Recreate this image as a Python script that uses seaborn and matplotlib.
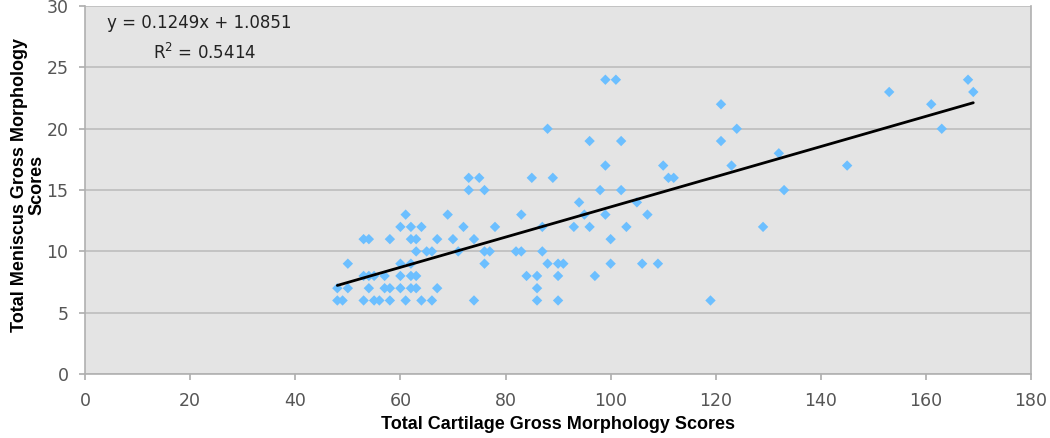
import matplotlib
matplotlib.use("Agg")
import matplotlib.pyplot as plt
import seaborn as sns
import numpy as np
import pandas as pd

# Data (x: cartilage score, y: meniscus score)
y24 = [99, 101, 168]
y23 = [153, 169]
y22 = [121, 161]
y20 = [88, 124, 163]
y19 = [96, 102, 121]
y18 = [132]
y17 = [99, 110, 123, 145]
y16 = [73, 75, 85, 89, 111, 112]
y15 = [73, 76, 98, 102, 133]
y14 = [94, 105]
y13 = [61, 69, 83, 95, 99, 107]
y12 = [60, 62, 64, 72, 78, 87, 93, 96, 103, 129]
y11 = [53, 54, 58, 62, 63, 67, 70, 74, 100]
y10 = [63, 65, 66, 71, 76, 77, 82, 83, 87]
y9 = [50, 60, 62, 76, 88, 90, 91, 100, 106, 109]
y8 = [53, 54, 55, 57, 60, 62, 63, 84, 86, 90, 97]
y7 = [48, 50, 54, 57, 58, 60, 62, 63, 67, 86]
y6 = [48, 49, 53, 55, 56, 58, 61, 64, 66, 74, 86, 90, 119]

groups = {24: y24, 23: y23, 22: y22, 20: y20, 19: y19, 18: y18, 17: y17,
          16: y16, 15: y15, 14: y14, 13: y13, 12: y12, 11: y11, 10: y10,
          9: y9, 8: y8, 7: y7, 6: y6}

x_label = "Total Cartilage Gross Morphology Scores"
y_label = "Total Meniscus Gross Morphology\nScores"
eq_text = "y = 0.1249x + 1.0851"
r2_text = "R$^2$ = 0.5414"
x_ticks = [0, 20, 40, 60, 80, 100, 120, 140, 160, 180]
y_ticks = [0, 5, 10, 15, 20, 25, 30]

xs, ys = [], []
for yv, xl in groups.items():
    for xv in xl:
        xs.append(xv)
        ys.append(yv)
df = pd.DataFrame({"cart": xs, "men": ys})

sns.set_theme(style="white")
plt.rcParams['font.family'] = ['DejaVu Sans']

fig = plt.figure(figsize=(10.5, 4.38), dpi=100)
ax = fig.add_axes([0.081, 0.146, 0.901, 0.840])
ax.set_facecolor("#E4E4E4")

sns.regplot(data=df, x="cart", y="men", ax=ax, ci=None, truncate=True,
            marker="D",
            scatter_kws=dict(s=28, color="#6CBFFF", edgecolors="none", zorder=3, alpha=1),
            line_kws=dict(color="black", lw=2, zorder=4))

ax.set_xlim(0, 180)
ax.set_ylim(0, 30)
ax.set_xticks(x_ticks)
ax.set_yticks(y_ticks)
ax.yaxis.grid(True, color="#BDBDBD", lw=1.2)
ax.xaxis.grid(False)
ax.set_axisbelow(True)
for s in ["left", "bottom", "right", "top"]:
    ax.spines[s].set_color("#B0B0B0")
    ax.spines[s].set_linewidth(1.2)
ax.spines["top"].set_visible(False)

ax.tick_params(axis="both", length=4, color="#B0B0B0", labelcolor="#555555",
               labelsize=12.5, direction="out", bottom=True, left=True)
ax.tick_params(axis="x", pad=9)
ax.tick_params(axis="y", pad=8)

ax.set_xlabel(x_label, fontsize=13, fontweight="bold", family=['Liberation Sans'],
              color="black")
ax.xaxis.set_label_coords(0.5, -0.115)
ax.set_ylabel(y_label, fontsize=13, fontweight="bold", family=['Liberation Sans'],
              color="black", linespacing=1.0)
ax.yaxis.set_label_coords(-0.042, 0.515)

ax.text(4.2, 28.6, eq_text, fontsize=12, color="#222222", va="center", ha="left")
ax.text(12.9, 26.2, r2_text, fontsize=12, color="#222222", va="center", ha="left")

fig.savefig("out.png", dpi=100)
